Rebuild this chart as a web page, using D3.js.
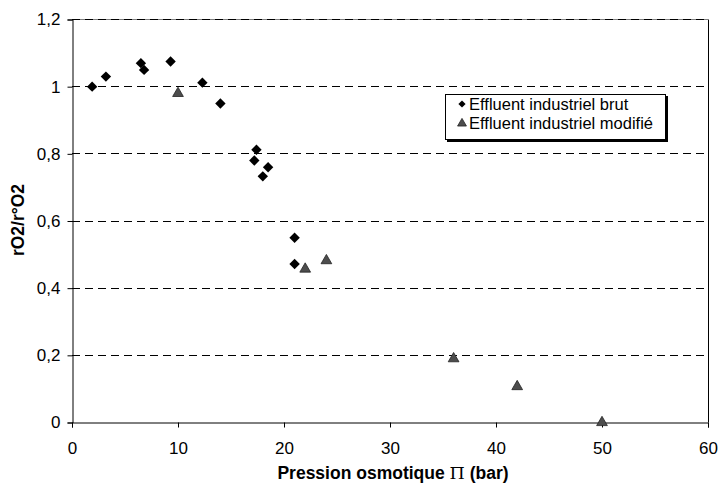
<!DOCTYPE html>
<html>
<head>
<meta charset="utf-8">
<script src="https://cdn.jsdelivr.net/npm/d3@7/dist/d3.min.js"></script>
<style>
  html, body { margin: 0; padding: 0; background: #fff; }
  svg { display: block; font-family: "Liberation Sans", Arial, sans-serif; }
</style>
</head>
<body>
<svg id="chart" width="718" height="486"></svg>
<script>
// Data
const brutX = [1.9, 3.2, 6.5, 6.8, 9.3, 12.3, 14.0, 17.4, 17.2, 18.0, 18.5, 21.0, 21.0];
const brutY = [1.00, 1.03, 1.07, 1.05, 1.075, 1.012, 0.95, 0.812, 0.78, 0.733, 0.76, 0.55, 0.472];
const modX = [10.0, 22.0, 24.0, 36.0, 42.0, 50.0];
const modY = [0.98, 0.457, 0.482, 0.19, 0.107, 0.0];
const xTicks = [0, 10, 20, 30, 40, 50, 60];
const yTicks = [0, 0.2, 0.4, 0.6, 0.8, 1.0, 1.2];
const seriesNames = ["Effluent industriel brut", "Effluent industriel modifié"];

const svg = d3.select("#chart");
const mLeft = 72, mRight = 708, mTop = 19.5, mBottom = 422.5;
const FONT = "'Liberation Sans', Arial, sans-serif";

const x = d3.scaleLinear().domain([0, 60]).range([mLeft, mRight]);
const y = d3.scaleLinear().domain([0, 1.2]).range([mBottom, mTop]);
const fmt = d => String(+d.toFixed(1)).replace(".", ",");

// Plot border (top/right)
svg.append("line").attr("x1", mLeft).attr("x2", mRight).attr("y1", mTop).attr("y2", mTop)
  .attr("stroke", "#808080").attr("stroke-width", 1);
svg.append("line").attr("x1", mRight + 0.5).attr("x2", mRight + 0.5).attr("y1", mTop).attr("y2", mBottom)
  .attr("stroke", "#000").attr("stroke-width", 1);

// Gridlines (dashed)
svg.append("g").selectAll("line").data(yTicks.filter(d => d > 0)).join("line")
  .attr("x1", mLeft).attr("x2", mRight)
  .attr("y1", d => Math.floor(y(d)) + 0.5).attr("y2", d => Math.floor(y(d)) + 0.5)
  .attr("stroke", "#000").attr("stroke-width", 1)
  .attr("stroke-dasharray", "8,5");

// Y axis
const yAxis = d3.axisLeft(y).tickValues(yTicks).tickSize(5).tickPadding(7).tickFormat(fmt);
const gy = svg.append("g").attr("transform", `translate(${mLeft + 0.5},0)`).call(yAxis);
gy.select(".domain").attr("stroke", "#000");
gy.selectAll(".tick line").attr("stroke", "#000");
gy.selectAll(".tick text").attr("font-size", 17).attr("fill", "#000").attr("font-family", FONT);

// X axis
const xAxis = d3.axisBottom(x).tickValues(xTicks).tickSize(5).tickPadding(14).tickFormat(d => d);
const gx = svg.append("g").attr("transform", `translate(0,${mBottom})`).call(xAxis);
gx.select(".domain").attr("stroke", "#000");
gx.selectAll(".tick line").attr("stroke", "#000");
gx.selectAll(".tick text").attr("font-size", 17).attr("fill", "#000").attr("font-family", FONT);

// Axis titles
const xt = svg.append("text").attr("x", 393).attr("y", 479)
  .attr("text-anchor", "middle").attr("font-size", 17.5).attr("font-weight", "bold");
xt.append("tspan").text("Pression osmotique ");
xt.append("tspan").attr("font-family", "'DejaVu Serif', 'Liberation Serif', serif").attr("font-weight", "normal").text("Π");
xt.append("tspan").text(" (bar)");
svg.append("text").attr("transform", `translate(24,220) rotate(-90)`)
  .attr("text-anchor", "middle").attr("font-size", 17.5).attr("font-weight", "bold")
  .text("rO2/r°O2");

// Markers
const diamond = d3.symbol().type(d3.symbolSquare).size(54);
const triangle = d3.symbol().type(d3.symbolTriangle).size(50);

const brut = brutX.map((v, i) => ({ x: v, y: brutY[i] }));
const mod = modX.map((v, i) => ({ x: v, y: modY[i] }));

svg.append("g").selectAll("path").data(mod).join("path")
  .attr("d", triangle)
  .attr("transform", d => `translate(${x(d.x)},${y(d.y)})`)
  .attr("fill", "#4d4d4d").attr("stroke", "#222").attr("stroke-width", 0.8);

svg.append("g").selectAll("path").data(brut).join("path")
  .attr("d", diamond)
  .attr("transform", d => `translate(${x(d.x)},${y(d.y)}) rotate(45)`)
  .attr("fill", "#000");

// Legend
const lg = svg.append("g");
lg.append("rect").attr("x", 447).attr("y", 96).attr("width", 221).attr("height", 46).attr("fill", "#000");
lg.append("rect").attr("x", 445.5).attr("y", 94.5).attr("width", 220).attr("height", 45)
  .attr("fill", "#fff").attr("stroke", "#000").attr("stroke-width", 1);
const rows = [104, 123];
lg.append("path").attr("d", d3.symbol().type(d3.symbolSquare).size(26))
  .attr("transform", `translate(462,${rows[0]}) rotate(45)`).attr("fill", "#000");
lg.append("path").attr("d", d3.symbol().type(d3.symbolTriangle).size(34))
  .attr("transform", `translate(462,${rows[1] + 0.5})`)
  .attr("fill", "#4d4d4d").attr("stroke", "#222").attr("stroke-width", 0.8);
lg.selectAll("text").data(seriesNames).join("text")
  .attr("x", 469).attr("y", (d, i) => rows[i]).attr("dy", "0.36em")
  .attr("font-size", 16.5).attr("fill", "#000").attr("font-family", FONT).text(d => d);
</script>
</body>
</html>
